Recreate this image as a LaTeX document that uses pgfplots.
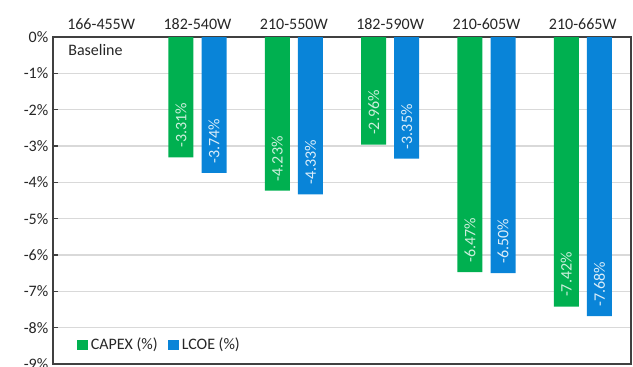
\documentclass[border=0pt]{standalone}
\usepackage{pgfplots}
\pgfplotsset{compat=1.18}
\usepackage{fontspec}
\setmainfont{Carlito}
\definecolor{capexgreen}{RGB}{0,176,80}
\definecolor{lcoeblue}{RGB}{9,132,216}
\definecolor{gridgray}{RGB}{217,217,217}
\definecolor{txt}{RGB}{38,38,38}
\begin{document}
\begin{tikzpicture}[x=0.75pt,y=0.75pt]
\path[use as bounding box] (-53,-3) rectangle (580,364);
\begin{axis}[
  at={(0,0)}, anchor=south west,
  scale only axis, width=433.5pt, height=245.25pt,
  ybar, bar width=18.75pt,
  xmin=-0.5, xmax=5.5, ymin=-9, ymax=0,
  axis line style={draw=black!75, line width=0.8pt},
  xtick={0,...,5},
  xticklabels={166-455W,182-540W,210-550W,182-590W,210-605W,210-665W},
  xticklabel pos=top,
  x tick style={draw=none},
  extra x ticks={0.5,1.5,2.5,3.5,4.5},
  extra x tick labels={},
  extra x tick style={tick pos=top, tick align=outside, major tick length=4pt,
    tick style={draw=black!75, line width=0.8pt}, grid=none},
  ytick={-9,...,0},
  yticklabel={\pgfmathprintnumber{\tick}\%},
  ytick pos=left, tick align=inside, major tick length=4pt,
  y tick style={draw=black!75, line width=0.8pt},
  ymajorgrids, grid style={gridgray, line width=0.8pt},
  /pgf/number format/assume math mode=true,
  tick label style={font=\fontsize{12}{14}\selectfont, text=txt},
  xticklabel style={yshift=2pt},
  legend style={at={(0.035,0.02)}, anchor=south west, draw=none, fill=none,
    legend columns=2, font=\fontsize{12}{14}\selectfont, text=txt,
    /tikz/every even column/.append style={column sep=6pt}},
  legend image code/.code={\fill[#1] (0pt,-4pt) rectangle (8pt,4pt);},
  nodes near coords={\pgfmathprintnumber[fixed,fixed zerofill,precision=2]{\pgfplotspointmeta}\%},
  nodes near coords align={},
  every node near coord/.append style={rotate=90, anchor=west, inner xsep=7pt,
    font=\fontsize{12}{14}\selectfont},
]
\addplot[bar shift=-12.4pt, fill=capexgreen, draw=none,
  every node near coord/.append style={text=white!80!capexgreen}]
  coordinates {(1,-3.31) (2,-4.23) (3,-2.96) (4,-6.47) (5,-7.42)};
\addlegendentry{CAPEX (\%)}
\addplot[bar shift=12.4pt, fill=lcoeblue, draw=none,
  every node near coord/.append style={text=white!85!lcoeblue}]
  coordinates {(1,-3.74) (2,-4.33) (3,-3.35) (4,-6.50) (5,-7.68)};
\addlegendentry{LCOE (\%)}
\node[anchor=west, font=\fontsize{12}{14}\selectfont, text=txt] at (axis cs:-0.39,-0.36) {Baseline};
\end{axis}
\end{tikzpicture}
\end{document}
